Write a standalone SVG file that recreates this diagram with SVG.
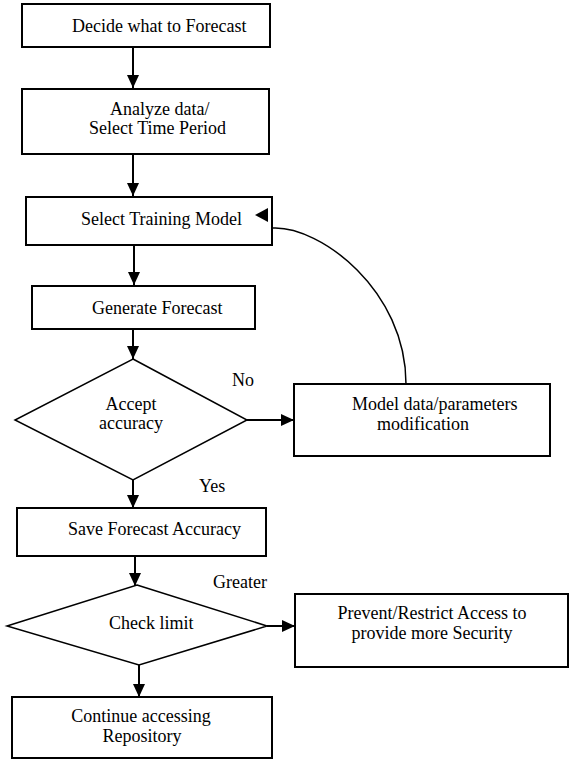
<svg xmlns="http://www.w3.org/2000/svg" width="573" height="770" viewBox="0 0 573 770">
<style>
  .box { fill: #fff; stroke: #000; stroke-width: 2; }
  .dia { fill: #fff; stroke: #000; stroke-width: 1.5; }
  .t { font-family: "Liberation Serif", "Times New Roman", serif; font-size: 18px; fill: #000; }
  .c { text-anchor: middle; }
  .edge { fill: none; stroke: #000; stroke-width: 2; marker-end: url(#ah); }
  .curve { fill: none; stroke: #000; stroke-width: 1.5; }
</style>
<defs>
  <marker id="ah" viewBox="0 0 13 12" refX="13" refY="6" markerWidth="13" markerHeight="12" markerUnits="userSpaceOnUse" orient="auto">
    <path d="M0,0 L13,6 L0,12 z" fill="#000"/>
  </marker>
</defs>
<rect width="573" height="770" fill="#fff"/>

<g id="connectors">
  <path class="edge" d="M133,47 L133,88"/>
  <path class="edge" d="M133,154 L133,196"/>
  <path class="edge" d="M134,245 L134,285"/>
  <path class="edge" d="M133,329 L133,359"/>
  <path class="edge" d="M247,420 L294,420"/>
  <path class="edge" d="M133,480 L133,508"/>
  <path class="edge" d="M135,556 L135,586"/>
  <path class="edge" d="M267,626 L295,626"/>
  <path class="edge" d="M139,665 L139,697"/>
  <path class="curve" d="M273,228 C320,226 406,290 406,384"/>
  <text class="t" x="232" y="386">No</text>
  <text class="t" x="199" y="492">Yes</text>
  <text class="t" x="213" y="588">Greater</text>
</g>

<g id="n1">
  <rect class="box" x="22" y="4" width="248" height="43"/>
  <text class="t" x="72" y="32">Decide what to Forecast</text>
</g>
<g id="n2">
  <rect class="box" x="22" y="89" width="247" height="65"/>
  <text class="t" x="110" y="115">Analyze data/</text>
  <text class="t" x="89" y="134">Select Time Period</text>
</g>
<g id="n3">
  <rect class="box" x="26" y="197" width="246" height="48"/>
  <text class="t" x="81" y="225">Select Training Model</text>
</g>
<g id="n4">
  <rect class="box" x="32" y="286" width="223" height="43"/>
  <text class="t" x="92" y="314">Generate Forecast</text>
</g>
<g id="d1">
  <polygon class="dia" points="133,359 247,420 133,480 15,420"/>
  <text class="t c" x="131" y="410">Accept</text>
  <text class="t c" x="131" y="429">accuracy</text>
</g>
<g id="n5">
  <rect class="box" x="294" y="384" width="256" height="72"/>
  <text class="t" x="352" y="410">Model data/parameters</text>
  <text class="t" x="377" y="430">modification</text>
</g>
<g id="n6">
  <rect class="box" x="17" y="508" width="249" height="48"/>
  <text class="t" x="68" y="535">Save Forecast Accuracy</text>
</g>
<g id="d2">
  <polygon class="dia" points="137,585 267,626 139,665 7,626"/>
  <text class="t" x="109" y="629">Check limit</text>
</g>
<g id="n7">
  <rect class="box" x="295" y="594" width="273" height="73"/>
  <text class="t c" x="432" y="619">Prevent/Restrict Access to</text>
  <text class="t c" x="432" y="639">provide more Security</text>
</g>
<g id="n8">
  <rect class="box" x="12" y="697" width="260" height="61"/>
  <text class="t c" x="141" y="722">Continue accessing</text>
  <text class="t c" x="142" y="742">Repository</text>
</g>
<g id="loop-arrowhead">
  <polygon points="255,215 268,208 268,222" fill="#000"/>
</g>
</svg>
